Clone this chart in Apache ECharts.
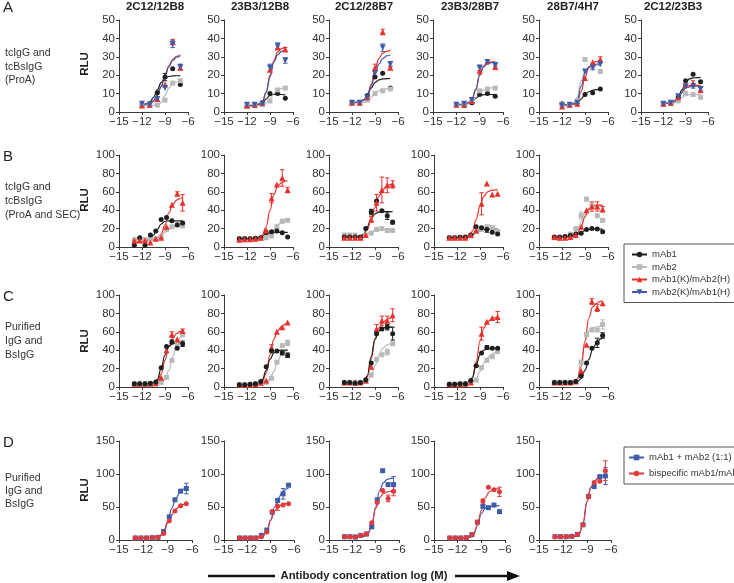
<!DOCTYPE html>
<html><head><meta charset="utf-8">
<script src="https://cdn.jsdelivr.net/npm/echarts@6/dist/echarts.min.js"></script>
<style>html,body{margin:0;padding:0;background:#fff}#c{width:734px;height:583px}</style>
</head><body><div id="c"></div><script>
// ---------- doses (log M) ----------
const dosesA = [-12, -11, -10, -9, -8, -7];
const dosesB = [-13, -12.3, -11.6, -10.9, -10.2, -9.5, -8.8, -8.1, -7.4, -6.7];
// x positions where fitted curves were read
const fitXA = [-12, -11, -10.5, -10, -9.5, -9, -8.5, -8, -7.5, -7];
const fitXB = [-13, -12, -11, -10.5, -10, -9.5, -9, -8.5, -8, -7.5, -7, -6.7];

const titlesA = ['2C12/12B8', '23B3/12B8', '2C12/28B7', '23B3/28B7', '28B7/4H7', '2C12/23B3'];

// ---------- Row A ----------
const A1_mAb1 = [4, 4.5, 10.5, 19, 23.5, 15];
const A1_mAb2 = [3.5, 3.5, 3.8, 6.5, 15.7, 17];
const A1_KH = [3.5, 4, 7, 15, 38, 24];
const A1_HK = [4.5, 4, 7, 13, 37, 24.5];
const A1_mAb1_fit = [3.5, 5, 8, 12, 16, 18.5, 19.3, 19.6, 19.7, 19.8];
const A1_mAb2_fit = [3.3, 3.4, 3.6, 3.9, 5, 9, 13, 15.5, 16.3, 16.6];
const A1_KH_fit = [3.5, 4.5, 6, 9, 14, 20, 25, 28.5, 30.3, 31];
const A1_HK_fit = [3.8, 4.7, 6.2, 9.2, 14, 19.5, 24.5, 28, 29.8, 30.6];
const A1_err = [['mAb1', 3, 2], ['KH', 4, 1.5], ['HK', 4, 2], ['HK', 5, 1.5], ['KH', 5, 1]];

const A2_mAb1 = [3, 4, 5, 10, 10, 7.5];
const A2_mAb2 = [3, 3.5, 4, 6, 12, 13];
const A2_KH = [3.5, 4, 5, 23, 35, 34];
const A2_HK = [4, 4, 4.5, 24, 36, 28];
const A2_mAb1_fit = [3, 3.5, 4, 5, 7, 9, 9.5, 9.6, 9.5, 9.3];
const A2_mAb2_fit = [3, 3.2, 3.5, 3.8, 5, 7, 10, 12, 12.8, 13.2];
const A2_KH_fit = [3.5, 3.8, 4.3, 5.5, 11, 20, 28, 32.5, 34.5, 35.5];
const A2_HK_fit = [3.5, 3.8, 4.3, 5.5, 10.5, 19, 27, 31, 33, 33.5];
const A2_err = [['HK', 3, 2], ['HK', 4, 1.5], ['KH', 4, 1], ['HK', 5, 1.5], ['KH', 5, 1]];

const A3_mAb1 = [5, 5, 9, 19, 21, 13];
const A3_mAb2 = [5, 5, 6.5, 10, 11.5, 12.5];
const A3_KH = [5, 5, 8, 24, 43.5, 24];
const A3_HK = [5, 5, 8, 21, 35, 26];
const A3_mAb1_fit = [5, 5.3, 6.5, 9, 13, 16, 17.5, 18, 18.1, 18.2];
const A3_mAb2_fit = [5, 5, 5.3, 6, 8, 10, 11.5, 12.3, 12.6, 12.7];
const A3_KH_fit = [5, 5.5, 6.5, 9, 15, 23, 29, 32, 33, 33.5];
const A3_HK_fit = [5, 5.5, 6.3, 8.5, 14, 20.5, 26, 29, 30.5, 31];
const A3_err = [['KH', 3, 2], ['HK', 3, 1.5], ['KH', 4, 1.5], ['HK', 4, 2], ['HK', 5, 1.5], ['KH', 5, 1]];

const A4_mAb1 = [4, 3.5, 5, 9.5, 10, 8.5];
const A4_mAb2 = [4, 4.5, 6, 11.5, 12.5, 13];
const A4_KH = [4, 4, 6, 22.5, 27.5, 24.5];
const A4_HK = [4, 4.5, 6.5, 24, 27, 25.5];
const A4_mAb1_fit = [4, 4, 4.5, 5.5, 7.5, 9, 9.4, 9.5, 9.5, 9.5];
const A4_mAb2_fit = [4, 4.2, 4.6, 5.5, 8, 10.5, 12, 12.8, 13.1, 13.2];
const A4_KH_fit = [4, 4.3, 5, 6.5, 12, 20, 25, 26.8, 27.2, 27.3];
const A4_HK_fit = [4, 4.3, 5, 6.8, 12.5, 20, 24.5, 26.3, 26.8, 27];
const A4_err = [['KH', 3, 2], ['HK', 3, 1.5], ['KH', 4, 1], ['KH', 5, 1], ['HK', 5, 1]];

const A5_mAb1 = [4.5, 4, 5, 9.5, 10.5, 12.5];
const A5_mAb2 = [4, 4, 6, 28.5, 25, 22];
const A5_KH = [3, 4, 4.5, 18.5, 27, 28.5];
const A5_HK = [3.5, 4, 5, 22, 24, 26];
const A5_mAb1_fit = [4, 4, 4.2, 5, 7, 9.5, 11, 11.8, 12.2, 12.5];
const A5_mAb2_fit = [4, 4.2, 4.8, 8, 17, 22.5, 24.5, 25, 25.2, 25.2];
const A5_KH_fit = [3.5, 3.8, 4.2, 5.5, 11, 19, 24, 26.5, 27.5, 28];
const A5_HK_fit = [3.8, 4, 4.5, 6.5, 14, 21, 24.5, 25.5, 26, 26];
const A5_err = [['KH', 5, 1.5], ['mAb2', 3, 1], ['HK', 4, 1]];

const A6_mAb1 = [4.5, 5, 8, 17, 20.5, 16.5];
const A6_mAb2 = [4.5, 4.5, 6, 10, 9.5, 8];
const A6_KH = [4.5, 5, 8, 15, 15.5, 12];
const A6_HK = [4.5, 5, 8.5, 14, 14, 12.5];
const A6_mAb1_fit = [4.5, 5, 6, 8, 12, 16, 18, 18.5, 18.7, 18.8];
const A6_mAb2_fit = [4.5, 4.7, 5, 6.5, 8, 9, 9.4, 9.5, 9.5, 9.5];
const A6_KH_fit = [4.5, 5, 5.8, 7.5, 11, 13.5, 14.3, 14.5, 14.5, 14.5];
const A6_HK_fit = [4.5, 5, 5.8, 7.5, 10.5, 13, 13.7, 14, 14, 14];
const A6_err = [['KH', 3, 1.5], ['KH', 4, 1.5], ['HK', 4, 1], ['KH', 5, 1.5], ['HK', 5, 1]];

// ---------- Row B ----------
const B1_mAb1 = [2, 10, 2, 13, 17.5, 30, 32, 28.5, 24, 26];
const B1_mAb2 = [8, 8, 8, 9, 9, 10.5, 19, 22, 24.5, 23];
const B1_KH = [7, 7, 7, 5, 9, 10, 22, 46, 58, 48];
const B1_mAb1_fit = [5, 6, 8, 13, 19, 25, 28, 28.5, 28.5, 28.5, 28.5, 28.5];
const B1_mAb2_fit = [8, 8.2, 8.5, 9, 10, 12, 16, 19.5, 22, 23, 23.7, 24];
const B1_KH_fit = [6, 6.5, 7, 8, 9, 14, 24, 37, 46, 51, 53, 53.5];
const B1_err = [['KH', 8, 2], ['KH', 9, 9], ['mAb2', 9, 2]];

const B2_mAb1 = [9, 9, 9, 9.5, 10, 16, 16.5, 17.5, 15.5, 11];
const B2_mAb2 = [9, 9, 9, 9, 9.5, 10, 12, 22, 28, 29];
const B2_KH = [8, 8.5, 8.5, 9, 10, 18, 53, 68, 75, 62];
const B2_mAb1_fit = [9, 9, 9.5, 10.5, 12, 14, 15, 15.5, 16, 16, 16, 16];
const B2_mAb2_fit = [9, 9, 9, 9.5, 10, 11.5, 14, 19, 24, 27, 28.5, 29];
const B2_KH_fit = [9, 9, 9, 10, 13, 22, 40, 57, 66, 70, 71.5, 72];
const B2_err = [['KH', 6, 5], ['KH', 8, 9], ['KH', 9, 3], ['mAb2', 8, 2], ['mAb2', 9, 1.5]];

const B3_mAb1 = [11, 11, 11, 11, 20, 38, 50, 39.5, 34, 27];
const B3_mAb2 = [13, 13, 13, 10, 13, 15, 19, 20, 18, 18];
const B3_KH = [10, 10, 10, 10, 13, 30, 48, 62, 67, 68];
const B3_mAb1_fit = [10.5, 10.7, 11, 14, 22, 31, 36, 38, 38.5, 38.5, 38.5, 38.5];
const B3_mAb2_fit = [12, 12, 12, 13, 14.5, 16.5, 18, 18.7, 19, 19, 19, 19];
const B3_KH_fit = [10.5, 10.7, 11, 13, 19, 30, 43, 55, 62, 66, 68, 68.5];
const B3_err = [['KH', 5, 3], ['KH', 6, 9], ['KH', 7, 14], ['KH', 8, 8], ['KH', 9, 4],
                ['mAb1', 5, 3], ['mAb1', 8, 4], ['mAb1', 9, 2], ['mAb2', 8, 2], ['mAb2', 9, 1.5]];

const B4_mAb1 = [10, 10, 10.5, 11, 13, 22, 21, 19, 16, 14];
const B4_mAb2 = [10, 10, 10.5, 10.5, 12, 17, 19, 22, 21, 17];
const B4_KH = [10, 10, 10, 10, 13, 18, 47, 69, 57, 58];
const B4_mAb1_fit = [10, 10.2, 10.5, 11.5, 13, 17, 19, 19.3, 19.5, 19.5, 19.5, 19.5];
const B4_mAb2_fit = [10, 10.2, 10.5, 11, 12, 15, 17.5, 18.5, 19, 19, 19, 19];
const B4_KH_fit = [10, 10.2, 10.5, 12, 17, 30, 45, 55, 60, 61.5, 62, 62];
const B4_err = [['KH', 6, 12], ['mAb1', 7, 3]];

const B5_mAb1 = [11, 11, 11.5, 12.5, 14, 15, 19, 20, 19.5, 16.5];
const B5_mAb2 = [10, 9.5, 11, 14, 20, 34, 52, 45, 34, 29];
const B5_KH = [11, 10, 10, 11, 13, 22, 40, 44, 44, 41];
const B5_mAb1_fit = [11, 11.2, 11.5, 12.5, 14, 16, 18, 19, 19.5, 19.5, 19.5, 19.5];
const B5_mAb2_fit = [10, 10.5, 11, 13, 18, 27, 36, 42, 44, 45, 45, 45];
const B5_KH_fit = [10.5, 10.7, 11, 12, 15, 22, 33, 41, 44.5, 45.5, 45.5, 45.5];
const B5_err = [['mAb2', 6, 2], ['KH', 7, 5], ['KH', 8, 5], ['KH', 9, 3], ['mAb2', 9, 2], ['mAb2', 5, 4]];

// ---------- Row C ----------
const C1_mAb1 = [3.5, 3.5, 3.5, 4, 5.5, 21, 44, 49, 42, 47];
const C1_mAb2 = [3.5, 3.5, 3.5, 3.5, 3.5, 5, 10.5, 29, 46, 57];
const C1_KH = [3.5, 3.5, 3.5, 3.5, 4, 10, 40, 57, 52, 61];
const C1_mAb1_fit = [3.5, 3.5, 3.5, 4.5, 8, 20, 35, 44, 47, 48, 48, 48];
const C1_mAb2_fit = [3.5, 3.5, 3.5, 3.7, 4, 5, 8, 18, 33, 46, 54, 57];
const C1_KH_fit = [3.5, 3.5, 3.5, 4, 6.5, 14, 29, 44, 53, 58, 60.5, 61.5];
const C1_err = [['KH', 7, 3], ['mAb1', 7, 2], ['mAb1', 9, 3], ['KH', 9, 2]];

const C2_mAb1 = [2.5, 2.5, 3, 3.5, 6, 22, 39, 39, 37, 34.5];
const C2_mAb2 = [2.5, 2.5, 3, 3.5, 4, 5, 9.5, 27, 45, 48];
const C2_KH = [2.5, 2.5, 2.5, 3, 4.5, 7, 43, 60, 65, 70];
const C2_mAb1_fit = [2.5, 2.6, 3, 4, 8, 18, 30, 37, 39.5, 40, 40, 40];
const C2_mAb2_fit = [2.5, 2.6, 2.8, 3.2, 3.5, 5, 9, 17, 28, 36, 39, 40];
const C2_KH_fit = [2.5, 2.6, 3, 3.5, 6, 15, 35, 52, 61, 66, 68.5, 69.5];
const C2_err = [['KH', 6, 3], ['mAb1', 8, 2], ['mAb1', 9, 2.5], ['mAb2', 9, 3]];

const C3_mAb1 = [5, 5, 4, 5, 8, 26, 58, 63, 65, 58];
const C3_mAb2 = [5, 5, 5, 5, 6, 13, 30, 35, 38, 47];
const C3_KH = [5, 5, 5, 5, 7, 22, 63, 72, 72, 78];
const C3_mAb1_fit = [4.5, 4.7, 5, 6, 12, 33, 52, 61, 64, 65, 65, 65];
const C3_mAb2_fit = [4.5, 4.6, 4.8, 5, 6.5, 12, 23, 35, 42, 45.5, 47, 47.5];
const C3_KH_fit = [4.5, 4.7, 5, 6, 11, 30, 52, 64, 70, 73, 75, 76];
const C3_err = [['KH', 6, 5], ['KH', 7, 5], ['KH', 8, 5], ['KH', 9, 7], ['mAb1', 8, 3], ['mAb1', 9, 7], ['mAb2', 8, 3]];

const C4_mAb1 = [3, 3, 3.5, 3.5, 7, 23, 37, 43, 42, 42];
const C4_mAb2 = [3, 3, 3.5, 3.5, 5, 7.5, 21, 29, 33, 38.5];
const C4_KH = [3, 3, 3, 3.5, 5, 25, 58, 71, 75, 76];
const C4_mAb1_fit = [3, 3.2, 3.5, 5, 10, 24, 35, 40, 41.5, 42, 42, 42];
const C4_mAb2_fit = [3, 3.2, 3.5, 4, 5, 9, 17, 26, 32, 35.5, 37.5, 38];
const C4_KH_fit = [3, 3.2, 3.5, 5, 10, 27, 50, 64, 71, 74, 75.5, 76];
const C4_err = [['KH', 6, 7], ['KH', 9, 6], ['mAb1', 7, 2], ['mAb2', 9, 2]];

const C5_mAb1 = [5, 5, 5, 5, 6, 12, 26, 42, 48, 56];
const C5_mAb2 = [5, 5, 5, 5, 6, 27, 57, 62, 62, 68];
const C5_KH = [5, 5, 5, 5, 6, 17, 46, 93, 86, 91];
const C5_mAb1_fit = [5, 5, 5, 5, 6, 9, 18, 30, 41, 48, 52, 54];
const C5_mAb2_fit = [5, 5, 5.2, 6, 10, 28, 50, 61, 64.5, 65.5, 66, 66];
const C5_KH_fit = [5, 5, 5.2, 5.5, 8, 22, 50, 75, 87, 91, 93, 93.5];
const C5_err = [['KH', 7, 3], ['KH', 8, 4], ['mAb2', 9, 5], ['mAb1', 8, 5], ['mAb1', 9, 3]];

// ---------- Row D ----------
const D1_mix = [3, 3, 3, 3.5, 4, 13, 35, 61, 74, 78];
const D1_bis = [3, 3, 3, 3.5, 4, 10, 29, 44, 52, 55];
const D1_mix_fit = [3, 3.2, 3.6, 4, 6, 12, 28, 48, 63, 72, 77, 79];
const D1_bis_fit = [3, 3.2, 3.6, 4, 5.5, 11, 25, 38, 47, 51.5, 54, 55];
const D1_err = [['mix', 9, 8], ['mix', 8, 2]];

const D2_mix = [3, 3, 3, 3, 7, 15, 42, 60, 70, 83];
const D2_bis = [3, 3, 3, 3, 5, 12, 43, 51, 53, 55];
const D2_mix_fit = [3, 3.2, 3.6, 4, 6, 13, 30, 50, 64, 72, 77, 79];
const D2_bis_fit = [3, 3.2, 3.6, 4, 6, 13, 30, 44, 51, 54, 55, 55.5];
const D2_err = [['mix', 8, 8], ['bis', 7, 6]];

const D3_mix = [5, 5, 4.5, 7, 9, 20, 61, 105, 84, 84];
const D3_bis = [5, 5, 4.5, 7, 9, 26, 57, 75, 63, 74];
const D3_mix_fit = [5, 5.2, 5.6, 6, 9, 22, 50, 75, 87, 92, 93.5, 94];
const D3_bis_fit = [5, 5.2, 5.6, 6, 9, 24, 48, 64, 70.5, 73, 74, 74];
const D3_err = [['mix', 9, 12], ['bis', 9, 7], ['bis', 8, 5]];

const D4_mix = [3, 3, 3, 3.5, 8, 27, 51, 49, 53, 43];
const D4_bis = [3, 3, 3, 3.5, 8, 27, 59, 80, 76, 73];
const D4_mix_fit = [3, 3.2, 3.6, 4, 8, 22, 40, 48, 50.5, 51.5, 52, 52];
const D4_bis_fit = [3, 3.2, 3.6, 4, 8, 22, 45, 64, 73, 76.5, 77.5, 78];
const D4_err = [['bis', 9, 7], ['bis', 6, 3]];

const D5_mix = [5, 5, 5, 5.5, 8.5, 23, 66, 81, 96, 97];
const D5_bis = [5, 5, 5, 5.5, 8.5, 23, 66, 87, 89, 105];
const D5_mix_fit = [5, 5.2, 5.6, 6, 9, 25, 58, 80, 90, 95, 97, 97.5];
const D5_bis_fit = [5, 5.2, 5.6, 6, 9, 25, 58, 80, 90, 95, 97, 97.5];
const D5_err = [['bis', 9, 15], ['mix', 9, 13]];

// ---------- styles ----------
const FONT = "'Liberation Sans', Arial, sans-serif";
const STY = {
  mAb1: {name: 'mAb1', color: '#1e1e1e', symbol: 'circle', size: 5, rot: 0},
  mAb2: {name: 'mAb2', color: '#b9b9b9', symbol: 'rect', size: 5, rot: 0},
  KH:   {name: 'mAb1(K)/mAb2(H)', color: '#e8312b', symbol: 'triangle', size: 6, rot: 0},
  HK:   {name: 'mAb2(K)/mAb1(H)', color: '#3e5ca9', symbol: 'triangle', size: 6, rot: 180},
  mix:  {name: 'mAb1 + mAb2 (1:1)', color: '#3e5ca9', symbol: 'rect', size: 5, rot: 0},
  bis:  {name: 'bispecific mAb1/mAb2', color: '#e2393a', symbol: 'circle', size: 5, rot: 0}
};

const rows = {
  A: {top: 20, height: 92, max: 50, interval: 10, doses: dosesA, fitX: fitXA,
      lefts: [119, 224, 329, 433, 539, 641], widths: [69, 69, 69, 70, 69, 67]},
  B: {top: 155, height: 92, max: 100, interval: 20, doses: dosesB, fitX: fitXB,
      lefts: [119, 224, 329, 434, 539], widths: [69, 69, 69, 69, 69]},
  C: {top: 295, height: 92, max: 100, interval: 20, doses: dosesB, fitX: fitXB,
      lefts: [119, 224, 329, 434, 539], widths: [69, 69, 69, 69, 69]},
  D: {top: 441, height: 99, max: 150, interval: 50, doses: dosesB, fitX: fitXB,
      lefts: [119, 224, 329, 434, 539], widths: [73, 70, 70, 71, 72]}
};

const panels = [
  ['A', 0, [['mAb1', A1_mAb1, A1_mAb1_fit], ['mAb2', A1_mAb2, A1_mAb2_fit], ['KH', A1_KH, A1_KH_fit], ['HK', A1_HK, A1_HK_fit]], A1_err],
  ['A', 1, [['mAb1', A2_mAb1, A2_mAb1_fit], ['mAb2', A2_mAb2, A2_mAb2_fit], ['KH', A2_KH, A2_KH_fit], ['HK', A2_HK, A2_HK_fit]], A2_err],
  ['A', 2, [['mAb1', A3_mAb1, A3_mAb1_fit], ['mAb2', A3_mAb2, A3_mAb2_fit], ['KH', A3_KH, A3_KH_fit], ['HK', A3_HK, A3_HK_fit]], A3_err],
  ['A', 3, [['mAb1', A4_mAb1, A4_mAb1_fit], ['mAb2', A4_mAb2, A4_mAb2_fit], ['KH', A4_KH, A4_KH_fit], ['HK', A4_HK, A4_HK_fit]], A4_err],
  ['A', 4, [['mAb1', A5_mAb1, A5_mAb1_fit], ['mAb2', A5_mAb2, A5_mAb2_fit], ['KH', A5_KH, A5_KH_fit], ['HK', A5_HK, A5_HK_fit]], A5_err],
  ['A', 5, [['mAb1', A6_mAb1, A6_mAb1_fit], ['mAb2', A6_mAb2, A6_mAb2_fit], ['KH', A6_KH, A6_KH_fit], ['HK', A6_HK, A6_HK_fit]], A6_err],
  ['B', 0, [['mAb2', B1_mAb2, B1_mAb2_fit], ['mAb1', B1_mAb1, B1_mAb1_fit], ['KH', B1_KH, B1_KH_fit]], B1_err],
  ['B', 1, [['mAb2', B2_mAb2, B2_mAb2_fit], ['mAb1', B2_mAb1, B2_mAb1_fit], ['KH', B2_KH, B2_KH_fit]], B2_err],
  ['B', 2, [['mAb2', B3_mAb2, B3_mAb2_fit], ['mAb1', B3_mAb1, B3_mAb1_fit], ['KH', B3_KH, B3_KH_fit]], B3_err],
  ['B', 3, [['mAb2', B4_mAb2, B4_mAb2_fit], ['mAb1', B4_mAb1, B4_mAb1_fit], ['KH', B4_KH, B4_KH_fit]], B4_err],
  ['B', 4, [['mAb2', B5_mAb2, B5_mAb2_fit], ['mAb1', B5_mAb1, B5_mAb1_fit], ['KH', B5_KH, B5_KH_fit]], B5_err],
  ['C', 0, [['mAb2', C1_mAb2, C1_mAb2_fit], ['KH', C1_KH, C1_KH_fit], ['mAb1', C1_mAb1, C1_mAb1_fit]], C1_err],
  ['C', 1, [['mAb2', C2_mAb2, C2_mAb2_fit], ['KH', C2_KH, C2_KH_fit], ['mAb1', C2_mAb1, C2_mAb1_fit]], C2_err],
  ['C', 2, [['mAb2', C3_mAb2, C3_mAb2_fit], ['KH', C3_KH, C3_KH_fit], ['mAb1', C3_mAb1, C3_mAb1_fit]], C3_err],
  ['C', 3, [['mAb2', C4_mAb2, C4_mAb2_fit], ['KH', C4_KH, C4_KH_fit], ['mAb1', C4_mAb1, C4_mAb1_fit]], C4_err],
  ['C', 4, [['mAb2', C5_mAb2, C5_mAb2_fit], ['KH', C5_KH, C5_KH_fit], ['mAb1', C5_mAb1, C5_mAb1_fit]], C5_err],
  ['D', 0, [['mix', D1_mix, D1_mix_fit], ['bis', D1_bis, D1_bis_fit]], D1_err],
  ['D', 1, [['mix', D2_mix, D2_mix_fit], ['bis', D2_bis, D2_bis_fit]], D2_err],
  ['D', 2, [['mix', D3_mix, D3_mix_fit], ['bis', D3_bis, D3_bis_fit]], D3_err],
  ['D', 3, [['mix', D4_mix, D4_mix_fit], ['bis', D4_bis, D4_bis_fit]], D4_err],
  ['D', 4, [['mix', D5_mix, D5_mix_fit], ['bis', D5_bis, D5_bis_fit]], D5_err]
];

const grid = [], xAxis = [], yAxis = [], series = [];
const minus = v => String(v).replace('-', '\u2212');

function errRenderer(color) {
  return function (params, api) {
    const x = api.value(0), y = api.value(1), e = api.value(2);
    const t = api.coord([x, y + e]), b = api.coord([x, y - e]);
    const w = 2.2, st = {stroke: color, lineWidth: 1};
    return {type: 'group', children: [
      {type: 'line', shape: {x1: t[0], y1: t[1], x2: b[0], y2: b[1]}, style: st},
      {type: 'line', shape: {x1: t[0] - w, y1: t[1], x2: t[0] + w, y2: t[1]}, style: st},
      {type: 'line', shape: {x1: b[0] - w, y1: b[1], x2: b[0] + w, y2: b[1]}, style: st}
    ]};
  };
}

panels.forEach(([rk, col, groups, errs], pi) => {
  const R = rows[rk];
  grid.push({left: R.lefts[col], top: R.top, width: R.widths[col], height: R.height, containLabel: false});
  const axLine = {show: true, lineStyle: {color: '#3a3a3a', width: 1}};
  const axTick = {show: true, length: 3, lineStyle: {color: '#3a3a3a', width: 1}};
  xAxis.push({type: 'value', gridIndex: pi, min: -15, max: -6, interval: 3,
    axisLine: axLine, axisTick: axTick, splitLine: {show: false},
    axisLabel: {fontSize: 11.5, color: '#333', margin: 4, fontFamily: FONT, formatter: minus}});
  yAxis.push({type: 'value', gridIndex: pi, min: 0, max: R.max, interval: R.interval,
    axisLine: axLine, axisTick: axTick, splitLine: {show: false},
    axisLabel: {fontSize: 11.5, color: '#333', margin: 4, fontFamily: FONT}});
  groups.forEach(([sk, pts, fit]) => {
    const s = STY[sk];
    series.push({type: 'line', name: s.name + ' fit ' + pi, xAxisIndex: pi, yAxisIndex: pi,
      data: R.fitX.map((x, i) => [x, fit[i]]), smooth: 0.4, smoothMonotone: 'x',
      showSymbol: false, symbol: 'none', lineStyle: {color: s.color, width: 1.2}, z: 2, silent: true});
  });
  groups.forEach(([sk, pts, fit]) => {
    const s = STY[sk];
    const ed = errs.filter(e => e[0] === sk).map(e => [R.doses[e[1]], pts[e[1]], e[2]]);
    if (ed.length) {
      series.push({type: 'custom', name: s.name + ' err ' + pi, xAxisIndex: pi, yAxisIndex: pi,
        data: ed, dimensions: ['x', 'y', 'e'], encode: {x: 0, y: 1},
        renderItem: errRenderer(s.color), z: 3, silent: true, clip: false});
    }
    series.push({type: 'scatter', name: s.name + ' pts ' + pi, xAxisIndex: pi, yAxisIndex: pi,
      data: R.doses.map((x, i) => [x, pts[i]]), symbol: s.symbol, symbolSize: s.size,
      symbolRotate: s.rot, itemStyle: {color: s.color, opacity: 1}, z: 4, silent: true});
  });
});

// legend-only series
['mAb1', 'mAb2', 'KH', 'HK', 'mix', 'bis'].forEach(k => {
  const s = STY[k];
  series.push({type: 'line', name: s.name, data: [], xAxisIndex: 0, yAxisIndex: 0,
    symbol: s.symbol, symbolSize: s.size, symbolRotate: s.rot,
    itemStyle: {color: s.color}, lineStyle: {color: s.color, width: 1.2}});
});

const legendText = {fontSize: 9.5, color: '#333', fontFamily: FONT, lineHeight: 11};
const legend = [
  {left: 624, top: 244, orient: 'vertical', data: [STY.mAb1.name, STY.mAb2.name, STY.KH.name, STY.HK.name],
   borderColor: '#555', borderWidth: 1, padding: [5, 14, 5, 7], itemWidth: 15, itemHeight: 7, itemGap: 1.5,
   textStyle: legendText, selectedMode: false},
  {left: 624, top: 447, orient: 'vertical', data: [STY.mix.name, STY.bis.name],
   borderColor: '#555', borderWidth: 1, padding: [5, 14, 5, 4], itemWidth: 15, itemHeight: 7, itemGap: 5,
   textStyle: legendText, selectedMode: false}
];

// ---------- text elements ----------
const colTitleX = [155, 260, 364, 470, 573, 673];
const rowLetters = [['A', 8], ['B', 157], ['C', 297], ['D', 443]];
const rowDesc = [
  [['tcIgG and', 53], ['tcBsIgG', 67], ['(ProA)', 80]],
  [['tcIgG and', 187], ['tcBsIgG', 201], ['(ProA and SEC)', 215]],
  [['Purified', 327], ['IgG and', 341], ['BsIgG', 355]],
  [['Purified', 478], ['IgG and', 491], ['BsIgG', 504]]
];
const rluY = [64, 200, 341, 490];

const graphic = [];
titlesA.forEach((t, i) => graphic.push({type: 'text', x: colTitleX[i], y: 7,
  style: {text: t, font: 'bold 11.5px ' + FONT, fill: '#222', textAlign: 'center', textVerticalAlign: 'middle'}}));
rowLetters.forEach(([t, y]) => graphic.push({type: 'text', x: 3, y: y,
  style: {text: t, font: '15px ' + FONT, fill: '#222', textAlign: 'left', textVerticalAlign: 'middle'}}));
rowDesc.forEach(lines => lines.forEach(([t, y]) => graphic.push({type: 'text', x: 5, y: y,
  style: {text: t, font: '10.5px ' + FONT, fill: '#333', textAlign: 'left', textVerticalAlign: 'middle'}})));
rluY.forEach(y => graphic.push({type: 'text', x: 85, y: y, rotation: Math.PI / 2,
  style: {text: 'RLU', font: 'bold 11.5px ' + FONT, fill: '#222', textAlign: 'center', textVerticalAlign: 'middle'}}));
graphic.push({type: 'line', shape: {x1: 208, y1: 576, x2: 275, y2: 576}, style: {stroke: '#111', lineWidth: 2.5}});
graphic.push({type: 'text', x: 364, y: 576,
  style: {text: 'Antibody concentration log (M)', font: 'bold 11.3px ' + FONT, fill: '#222', textAlign: 'center', textVerticalAlign: 'middle'}});
graphic.push({type: 'line', shape: {x1: 455, y1: 576, x2: 510, y2: 576}, style: {stroke: '#111', lineWidth: 2.5}});
graphic.push({type: 'polygon', shape: {points: [[507, 571], [520, 576], [507, 581]]}, style: {fill: '#111'}});

const chart = echarts.init(document.getElementById('c'), null, {renderer: 'canvas'});
chart.setOption({
  animation: false, backgroundColor: '#fff',
  textStyle: {fontFamily: FONT},
  grid, xAxis, yAxis, series, legend, graphic
});
</script></body></html>
